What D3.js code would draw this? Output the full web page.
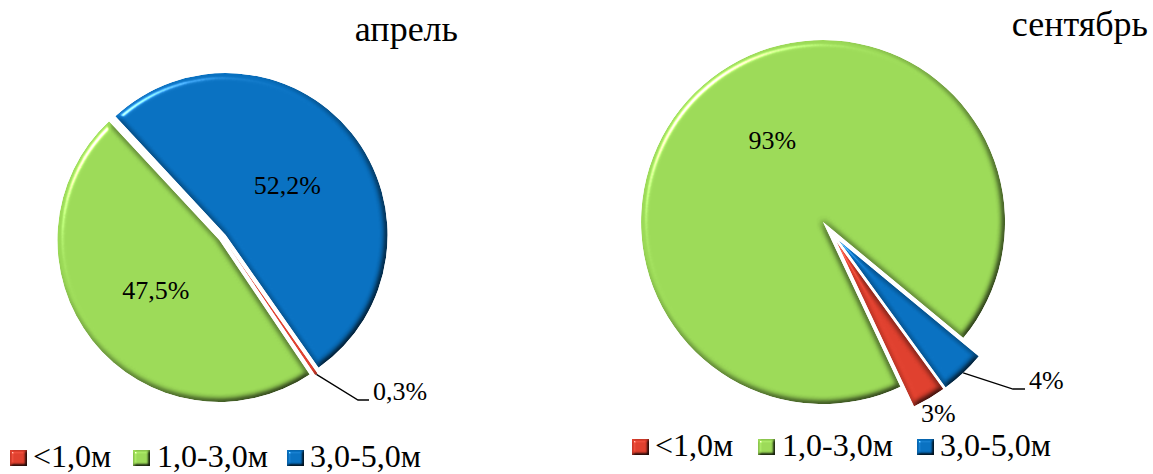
<!DOCTYPE html>
<html>
<head>
<meta charset="utf-8">
<script src="https://cdn.jsdelivr.net/npm/d3@7"></script>
<style>
  html, body { margin: 0; padding: 0; background: #fff; }
  svg { display: block; font-family: "Liberation Serif", "Times New Roman", serif; }
</style>
</head>
<body>
<svg id="chart" width="1153" height="474"></svg>
<script>
// Depth distribution shares (%) for two survey months
const categories = ["<1,0м", "1,0-3,0м", "3,0-5,0м"];
const aprilValues = [0.3, 47.5, 52.2];
const septemberValues = [3, 93, 4];
const titles = ["апрель", "сентябрь"];
const colors = ["#DE3F2D", "#9BD957", "#0870C0"];

const locale = d3.formatLocale({ decimal: ",", thousands: " ", grouping: [3], currency: ["", ""] });

// Layout for each pie (positions in px, angles in degrees clockwise from 12 o'clock)
const charts = [
  {
    title: titles[0], values: aprilValues, format: ".1f",
    cx: 222.5, cy: 237.5, r: 162, explode: 4, startDeg: 145,
    titleX: 458, titleY: 41,
    labels: [
      { mode: "leader", elbow: [135.5, 162.5], end: [146.5, 162.5] },
      { mode: "inside", k: 0.5 },
      { mode: "inside", k: 0.49 }
    ],
    legend: { y: 467, markers: [10, 133, 287], texts: [33, 157, 310] }
  },
  {
    title: titles[1], values: septemberValues, format: "d",
    cx: 830.4, cy: 231.5, r: 182, explode: 12, startDeg: 144,
    titleX: 1148, titleY: 36,
    labels: [
      { mode: "outside", gap: 18 },
      { mode: "inside", k: 0.53, shiftDeg: 6 },
      { mode: "leader", elbow: [182.6, 157.5], end: [194.6, 157.5] }
    ],
    legend: { y: 456, markers: [632, 758, 917], texts: [655, 782, 940] }
  }
];

const svg = d3.select("#chart");
const defs = svg.append("defs");

// Bevel-style lighting used on the slices and legend keys
function bevelFilter(id, blur, scale) {
  const f = defs.append("filter").attr("id", id)
    .attr("x", "-10%").attr("y", "-10%").attr("width", "120%").attr("height", "120%")
    .attr("color-interpolation-filters", "sRGB");
  f.append("feGaussianBlur").attr("in", "SourceAlpha").attr("stdDeviation", blur).attr("result", "blur");
  const diff = f.append("feDiffuseLighting").attr("in", "blur").attr("surfaceScale", scale)
    .attr("diffuseConstant", 1.155).attr("lighting-color", "#fff").attr("result", "diff");
  diff.append("feDistantLight").attr("azimuth", 225).attr("elevation", 60);
  f.append("feComposite").attr("in", "SourceGraphic").attr("in2", "diff")
    .attr("operator", "arithmetic").attr("k1", 1).attr("k2", 0).attr("k3", 0).attr("k4", 0).attr("result", "shaded");
  const spec = f.append("feSpecularLighting").attr("in", "blur").attr("surfaceScale", scale)
    .attr("specularConstant", 0.75).attr("specularExponent", 50).attr("lighting-color", "#fff").attr("result", "spec");
  spec.append("feDistantLight").attr("azimuth", 225).attr("elevation", 42);
  f.append("feComposite").attr("in", "spec").attr("in2", "SourceAlpha").attr("operator", "in").attr("result", "specIn");
  f.append("feComposite").attr("in", "shaded").attr("in2", "specIn")
    .attr("operator", "arithmetic").attr("k1", 0).attr("k2", 1).attr("k3", 1).attr("k4", 0).attr("result", "lit");
  f.append("feComposite").attr("in", "lit").attr("in2", "SourceAlpha").attr("operator", "in");
}
bevelFilter("bevel", 3, 4);
bevelFilter("bevelKey", 1.6, 3);

const rad = d => d * Math.PI / 180;

charts.forEach(c => {
  const pie = d3.pie().sort(null).value(d => d)
    .startAngle(rad(c.startDeg)).endAngle(rad(c.startDeg + 360));
  const arcs = pie(c.values);
  const arc = d3.arc().innerRadius(0).outerRadius(c.r);
  const fmt = locale.format(c.format);

  const g = svg.append("g").attr("transform", `translate(${c.cx},${c.cy})`);

  const offset = d => {
    const m = (d.startAngle + d.endAngle) / 2;
    return [Math.sin(m) * c.explode, -Math.cos(m) * c.explode];
  };

  g.selectAll("path.slice").data(arcs).join("path")
    .attr("class", "slice")
    .attr("d", arc)
    .attr("fill", (d, i) => colors[i])
    .attr("transform", d => `translate(${offset(d)})`)
    .attr("filter", "url(#bevel)");

  // Data labels
  arcs.forEach((d, i) => {
    const L = c.labels[i];
    const m = (d.startAngle + d.endAngle) / 2;
    const [ox, oy] = offset(d);
    const text = fmt(c.values[i]) + "%";
    if (L.mode === "inside") {
      const a = m + rad(L.shiftDeg || 0);
      const rr = c.r * L.k;
      g.append("text")
        .attr("x", ox + Math.sin(a) * rr).attr("y", oy - Math.cos(a) * rr)
        .attr("text-anchor", "middle").attr("dominant-baseline", "central")
        .attr("font-size", 26).attr("fill", "#000").text(text);
    } else if (L.mode === "outside") {
      const rr = c.r + L.gap;
      g.append("text")
        .attr("x", ox + Math.sin(m) * rr).attr("y", oy - Math.cos(m) * rr)
        .attr("text-anchor", "middle").attr("dominant-baseline", "central")
        .attr("font-size", 26).attr("fill", "#000").text(text);
    } else {
      const sx = ox + Math.sin(m) * c.r, sy = oy - Math.cos(m) * c.r;
      g.append("path")
        .attr("d", d3.line()([[sx, sy], L.elbow, L.end]))
        .attr("fill", "none").attr("stroke", "#000").attr("stroke-width", 1.3);
      g.append("text")
        .attr("x", L.end[0] + 4).attr("y", L.end[1])
        .attr("font-size", 26).attr("fill", "#000").text(text);
    }
  });

  // Title
  svg.append("text")
    .attr("x", c.titleX).attr("y", c.titleY)
    .attr("text-anchor", "end").attr("font-size", 36).attr("fill", "#000")
    .text(c.title);

  // Legend
  const lg = svg.append("g");
  categories.forEach((name, i) => {
    lg.append("rect")
      .attr("x", c.legend.markers[i]).attr("y", c.legend.y - 17)
      .attr("width", 17).attr("height", 16)
      .attr("fill", colors[i]).attr("filter", "url(#bevelKey)");
    lg.append("text")
      .attr("x", c.legend.texts[i]).attr("y", c.legend.y)
      .attr("font-size", 32).attr("fill", "#000").text(name);
  });
});
</script>
</body>
</html>
